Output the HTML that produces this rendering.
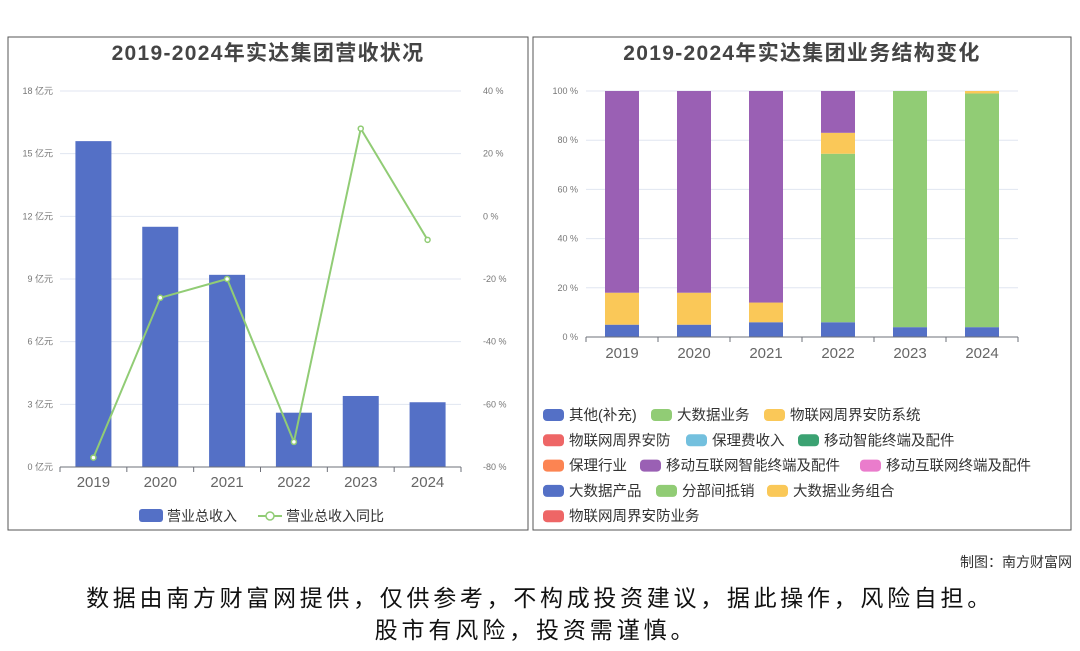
<!DOCTYPE html>
<html><head><meta charset="utf-8"><style>
body{margin:0;width:1080px;height:646px;background:#fff;overflow:hidden;font-family:"Liberation Sans","Noto Sans CJK SC",sans-serif;}
svg text{font-family:"Liberation Sans","Noto Sans CJK SC",sans-serif;}
</style></head><body>
<svg id="s" width="1080" height="646">
<rect x="8" y="37" width="520" height="493" fill="#fff" stroke="#555"/>
<rect x="533" y="37" width="538" height="493" fill="#fff" stroke="#555"/>
<text x="268" y="60" text-anchor="middle" font-size="21" letter-spacing="1.3" font-weight="bold" fill="#444">2019-2024年实达集团营收状况</text>
<text x="802" y="60" text-anchor="middle" font-size="21" letter-spacing="1.3" font-weight="bold" fill="#444">2019-2024年实达集团业务结构变化</text>
<g id="L"></g><g id="R"></g>
<text x="1072" y="567" text-anchor="end" font-size="14" fill="#333">制图：南方财富网</text>
<text x="540" y="606" text-anchor="middle" font-size="23" letter-spacing="3.7" fill="#111">数据由南方财富网提供，仅供参考，不构成投资建议，据此操作，风险自担。</text>
<text x="536" y="638" text-anchor="middle" font-size="23" letter-spacing="3.9" fill="#111">股市有风险，投资需谨慎。</text>
</svg>
<script>
const years=["2019","2020","2021","2022","2023","2024"];
const revenue=[15.6,11.5,9.2,2.6,3.4,3.1];
const growth=[-77,-26,-20,-72,28,-7.5];
const revTicks=[0,3,6,9,12,15,18];
const pctTicks=[-80,-60,-40,-20,0,20,40];
const segNames=["其他(补充)","大数据业务","物联网周界安防系统","移动互联网智能终端及配件"];
const segColors=["#5470c6","#91cc75","#fac858","#9a60b4"];
const segOther=[5,5,6,6,4,4];
const segBigData=[0,0,0,68.5,96,95];
const segIot=[13,13,8,8.5,0,1];
const segMobile=[82,82,86,17,0,0];
const pctAxisTicks=[0,20,40,60,80,100];
const legendNames=["其他(补充)","大数据业务","物联网周界安防系统","物联网周界安防","保理费收入","移动智能终端及配件","保理行业","移动互联网智能终端及配件","移动互联网终端及配件","大数据产品","分部间抵销","大数据业务组合","物联网周界安防业务"];
const legendColors=["#5470c6","#91cc75","#fac858","#ee6666","#73c0de","#3ba272","#fc8452","#9a60b4","#ea7ccc","#5470c6","#91cc75","#fac858","#ee6666"];
const NS="http://www.w3.org/2000/svg";
function mk(p,t,a,txt){const e=document.createElementNS(NS,t);for(const k in a)e.setAttribute(k,a[k]);if(txt!==undefined)e.textContent=txt;p.appendChild(e);return e;}
const L=document.getElementById('L');
const lx0=60,lx1=461,ly0=467,ly1=91;
const ly=v=>ly0-(v/18)*(ly0-ly1);
const py=v=>ly0-((v+80)/120)*(ly0-ly1);
const lbw=(lx1-lx0)/years.length;
const lcx=i=>lx0+lbw*(i+0.5);
revTicks.forEach(t=>{let g=mk(L,'line',{x1:lx0,x2:lx1,y1:ly(t),y2:ly(t),stroke:'#e0e6f1'});
let e=mk(L,'text',{x:53,y:ly(t)+3,'text-anchor':'end','font-size':9,fill:'#777'},t+' 亿元');});
pctTicks.forEach(t=>{let e=mk(L,'text',{x:483,y:py(t)+3,'font-size':9,fill:'#777'},t+' %');});
revenue.forEach((v,i)=>{let b=mk(L,'rect',{x:lcx(i)-18,y:ly(v),width:36,height:ly0-ly(v),fill:'#5470c6'});});
let ax=mk(L,'line',{x1:lx0,x2:lx1,y1:ly0,y2:ly0,stroke:'#6e7079'});
years.forEach((y,i)=>{mk(L,'line',{x1:lx0+lbw*i,x2:lx0+lbw*i,y1:ly0,y2:ly0+5,stroke:'#6e7079'});
let e=mk(L,'text',{x:lcx(i),y:487,'text-anchor':'middle','font-size':15,fill:'#666'},y);});
mk(L,'line',{x1:lx1,x2:lx1,y1:ly0,y2:ly0+5,stroke:'#6e7079'});
let pl=mk(L,'polyline',{points:growth.map((v,i)=>lcx(i)+','+py(v)).join(' '),fill:'none',stroke:'#91cc75','stroke-width':2});
growth.forEach((v,i)=>{let c=mk(L,'circle',{cx:lcx(i),cy:py(v),r:2.5,fill:'#fff',stroke:'#91cc75','stroke-width':1.5});});
let lg1=mk(L,'rect',{x:139,y:509,width:24,height:13,rx:3,fill:'#5470c6'});
let lt1=mk(L,'text',{x:167,y:521,'font-size':14,fill:'#333'},'营业总收入');
mk(L,'line',{x1:258,x2:282,y1:516,y2:516,stroke:'#91cc75','stroke-width':2});
mk(L,'circle',{cx:270,cy:516,r:4,fill:'#fff',stroke:'#91cc75','stroke-width':1.5});
let lt2=mk(L,'text',{x:286,y:521,'font-size':14,fill:'#333'},'营业总收入同比');
const R=document.getElementById('R');
const rx0=586,rx1=1018,ry0=337,ry1=91;
const ry=v=>ry0-(v/100)*(ry0-ry1);
const rbw=(rx1-rx0)/years.length;
const rcx=i=>rx0+rbw*(i+0.5);
pctAxisTicks.forEach(t=>{let g=mk(R,'line',{x1:rx0,x2:rx1,y1:ry(t),y2:ry(t),stroke:'#e0e6f1'});
let e=mk(R,'text',{x:578,y:ry(t)+3,'text-anchor':'end','font-size':9,fill:'#777'},t+' %');});
const series=[segOther,segBigData,segIot,segMobile];
years.forEach((y,i)=>{let acc=0;series.forEach((s,k)=>{const v=s[i];if(v>0){let b=mk(R,'rect',{x:rcx(i)-17,y:ry(acc+v),width:34,height:ry(acc)-ry(acc+v),fill:segColors[k]});}acc+=v;});});
let ax2=mk(R,'line',{x1:rx0,x2:rx1,y1:ry0,y2:ry0,stroke:'#6e7079'});
years.forEach((y,i)=>{mk(R,'line',{x1:rx0+rbw*i,x2:rx0+rbw*i,y1:ry0,y2:ry0+5,stroke:'#6e7079'});
let e=mk(R,'text',{x:rcx(i),y:358,'text-anchor':'middle','font-size':15,fill:'#666'},y);});
mk(R,'line',{x1:rx1,x2:rx1,y1:ry0,y2:ry0+5,stroke:'#6e7079'});
const rows=[[0,1,2],[3,4,5],[6,7,8],[9,10,11],[12]];
const rowX=[[543,651,764],[543,686,798],[543,640,860],[543,656,767],[543]];
rows.forEach((r,ri)=>r.forEach((idx,j)=>{const x=rowX[ri][j],y=415+ri*25.3;
let sw=mk(R,'rect',{x:x,y:y-6,width:21,height:12,rx:4,fill:legendColors[idx]});
let t=mk(R,'text',{x:x+26,y:y+5,'font-size':14.5,fill:'#333'},legendNames[idx]);}));
</script>
</body></html>
